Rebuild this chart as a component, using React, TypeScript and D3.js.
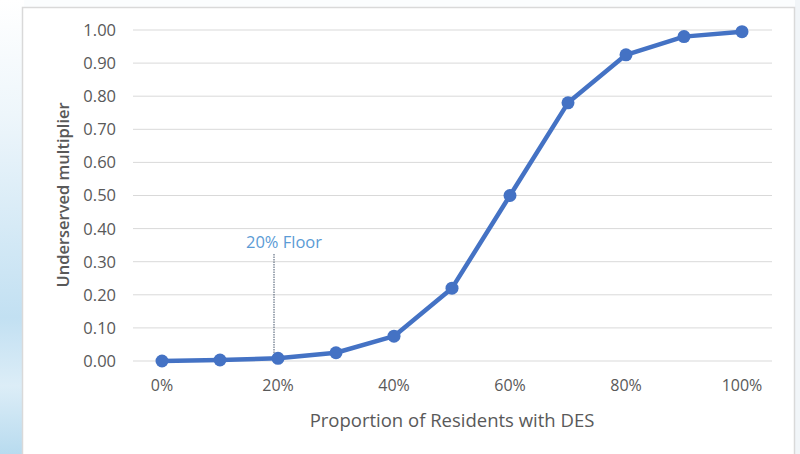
import React from "react";
import * as d3 from "d3";

const proportions = [0, 0.1, 0.2, 0.3, 0.4, 0.5, 0.6, 0.7, 0.8, 0.9, 1.0];
const multipliers = [0, 0.003, 0.008, 0.025, 0.075, 0.22, 0.5, 0.78, 0.925, 0.98, 0.995];
const yTicks = [0, 0.1, 0.2, 0.3, 0.4, 0.5, 0.6, 0.7, 0.8, 0.9, 1.0];
const xTicks = [0, 0.2, 0.4, 0.6, 0.8, 1.0];
const floorValue = 0.2;
const floorLabel = "20% Floor";

const W = 800;
const H = 454;
const font = "'Open Sans', 'Noto Sans', sans-serif";

export default function App() {
  const x = d3.scaleLinear().domain([0, 1]).range([162, 742]);
  const y = d3.scaleLinear().domain([0, 1]).range([361, 30]);
  const line = d3
    .line<number>()
    .x((_, i) => x(proportions[i]))
    .y((d) => y(d));
  const fmtY = d3.format(".2f");
  const fmtX = d3.format(".0%");

  return (
    <div style={{ position: "absolute", left: 0, top: 0 }}>
      <svg width={W} height={H} style={{ display: "block" }}>
        <defs>
          <linearGradient id="bgLeft" x1="0" y1="0" x2="0" y2="1">
            <stop offset="0" stopColor="#ffffff" />
            <stop offset="0.25" stopColor="#eef6fb" />
            <stop offset="0.5" stopColor="#d6eaf6" />
            <stop offset="0.7" stopColor="#c2e0f2" />
            <stop offset="0.85" stopColor="#dcedf7" />
            <stop offset="1" stopColor="#b8dbef" />
          </linearGradient>
        </defs>
        <rect x={0} y={0} width={W} height={H} fill="#fbfdfe" />
        <rect x={0} y={0} width={24} height={H} fill="url(#bgLeft)" />
        <rect x={795} y={0} width={5} height={H} fill="#f1f5f8" />
        {/* chart frame */}
        <rect x={22.5} y={7.5} width={772} height={460} fill="#ffffff" stroke="#d9d9d9" strokeWidth={1.5} />

        {/* gridlines */}
        {yTicks.map((t) => (
          <line key={t} x1={133} x2={772} y1={y(t)} y2={y(t)} stroke="#d9d9d9" strokeWidth={1} />
        ))}

        {/* y tick labels */}
        {yTicks.map((t) => (
          <text
            key={"yl" + t}
            x={116}
            y={y(t)}
            dy="0.36em"
            textAnchor="end"
            fontFamily={font}
            fontSize={16.5}
            fill="#595959"
          >
            {fmtY(t)}
          </text>
        ))}

        {/* x tick labels */}
        {xTicks.map((t) => (
          <text
            key={"xl" + t}
            x={x(t)}
            y={391}
            textAnchor="middle"
            fontFamily={font}
            fontSize={16}
            fill="#595959"
          >
            {fmtX(t)}
          </text>
        ))}

        {/* axis titles */}
        <text
          x={452}
          y={427}
          textAnchor="middle"
          fontFamily={font}
          fontSize={18.5}
          fill="#595959"
        >
          Proportion of Residents with DES
        </text>
        <text
          transform={`translate(69,${195}) rotate(-90)`}
          textAnchor="middle"
          fontFamily={font}
          fontSize={16.5}
          fontWeight={600}
          fill="#595959"
        >
          Underserved multiplier
        </text>

        {/* floor annotation */}
        <line
          x1={x(floorValue) - 4}
          x2={x(floorValue) - 4}
          y1={254}
          y2={y(multipliers[2]) - 2}
          stroke="#44546a"
          strokeWidth={1}
          strokeDasharray="1.5,1"
        />
        <text
          x={x(floorValue) + 6}
          y={248}
          textAnchor="middle"
          fontFamily={font}
          fontSize={16.5}
          fill="#5b9bd5"
        >
          {floorLabel}
        </text>

        {/* series */}
        <path d={line(multipliers) || ""} fill="none" stroke="#4472c4" strokeWidth={4.5} strokeLinejoin="round" />
        {multipliers.map((m, i) => (
          <circle key={"p" + i} cx={x(proportions[i])} cy={y(m)} r={6.5} fill="#4472c4" />
        ))}
      </svg>
    </div>
  );
}
